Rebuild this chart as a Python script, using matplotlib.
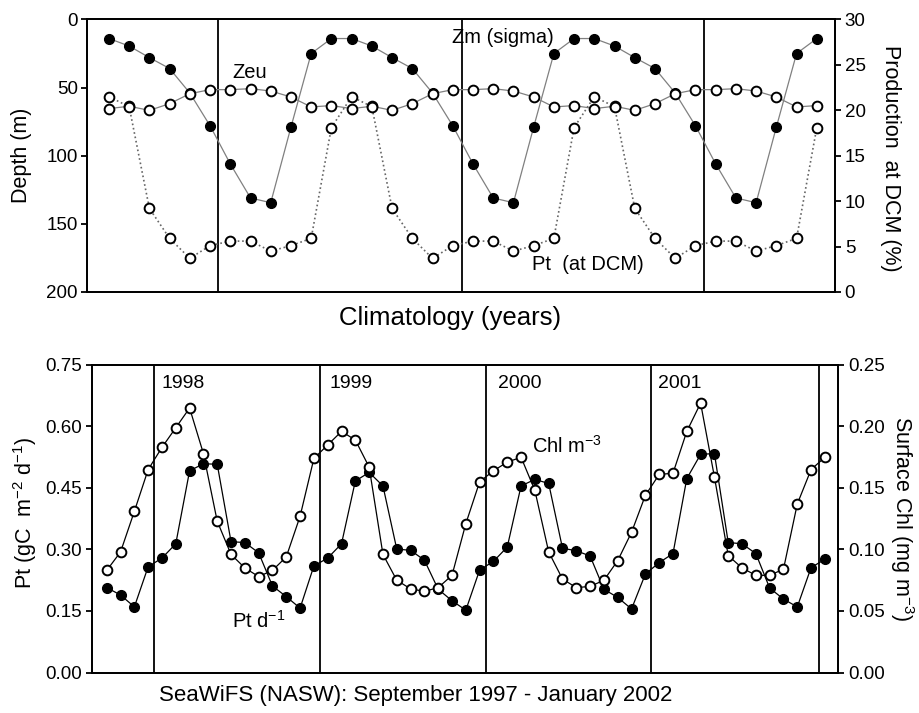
import numpy as np
import matplotlib
matplotlib.use("Agg")
import matplotlib.pyplot as plt

plt.rcParams['font.family'] = ['Liberation Sans', 'DejaVu Sans']
plt.rcParams['mathtext.default'] = 'regular'

# Climatologia mensual (julio -> junio), repetida 3 años en el grafico
zm_clim = [14, 19.5, 28, 36, 54, 78, 106, 131, 134.5, 79, 25, 14]
zeu_clim = [65.4, 63.7, 66.7, 61.8, 54.5, 51.5, 51.5, 50.8, 52.5, 56.9, 64.2, 63.2]
pt_dcm_clim = [21.5, 20.4, 9.2, 5.9, 3.7, 5.1, 5.6, 5.6, 4.5, 5.1, 5.9, 18.1]

zm = zm_clim * 3
zeu = zeu_clim * 3
pt_dcm = pt_dcm_clim * 3

# SeaWiFS mensual, septiembre 1997 - enero 2002
pt_daily = [0.207, 0.189, 0.160, 0.258, 0.279, 0.314, 0.492, 0.509, 0.508, 0.319, 0.317, 0.292,
            0.211, 0.185, 0.157, 0.260, 0.279, 0.314, 0.467, 0.488, 0.455, 0.301, 0.298, 0.274,
            0.203, 0.175, 0.152, 0.250, 0.271, 0.306, 0.455, 0.471, 0.461, 0.303, 0.297, 0.284,
            0.203, 0.183, 0.155, 0.240, 0.268, 0.290, 0.473, 0.532, 0.534, 0.317, 0.314, 0.290,
            0.206, 0.179, 0.160, 0.256, 0.276]
chl = [0.083, 0.098, 0.131, 0.165, 0.183, 0.199, 0.215, 0.178, 0.123, 0.096, 0.085, 0.078,
       0.083, 0.094, 0.127, 0.174, 0.185, 0.196, 0.189, 0.167, 0.096, 0.075, 0.068, 0.066,
       0.069, 0.079, 0.121, 0.155, 0.164, 0.171, 0.175, 0.148, 0.098, 0.076, 0.069, 0.070,
       0.075, 0.091, 0.114, 0.144, 0.161, 0.162, 0.196, 0.219, 0.159, 0.095, 0.085, 0.079,
       0.079, 0.084, 0.137, 0.165, 0.175]
years = ["1998", "1999", "2000", "2001"]

fig = plt.figure(figsize=(9.2, 7.13), dpi=100)

# ---------- panel superior ----------
ax = fig.add_axes([0.0951, 0.5905, 0.8125, 0.3822])
ax2 = ax.twinx()
xt = np.arange(len(zm))

for xv in [5.4, 17.45, 29.4]:
    ax.axvline(xv, color='black', lw=1.3, zorder=1)

ax.plot(xt, zm, color='#808080', lw=0.9, marker='o', ms=7, mfc='black', mec='black', zorder=3)
ax.plot(xt, zeu, color='#808080', lw=0.9, marker='o', ms=7, mfc='white', mec='black', mew=1.4, zorder=3)
ax2.plot(xt, pt_dcm, color='#666666', lw=1.2, ls=':', marker='o', ms=7, mfc='white', mec='black', mew=1.4)

ax.set_xlim(-1.06, 35.9)
ax.set_ylim(200, 0)
ax.set_yticks([0, 50, 100, 150, 200])
ax2.set_ylim(0, 30)
ax2.set_yticks([0, 5, 10, 15, 20, 25, 30])
ax.set_xticks([])

ax.text(6.1, 39, "Zeu", fontsize=14.5, ha='left', va='center')
ax.text(16.95, 13.2, "Zm (sigma)", fontsize=14.5, ha='left', va='center')
ax2.text(20.9, 3.0, "Pt  (at DCM)", fontsize=14.5, ha='left', va='center')

ax.set_ylabel("Depth (m)", fontsize=15.5)
ax.yaxis.set_label_coords(-0.074, 0.5)
ax2.set_ylabel("Production  at DCM (%)", fontsize=15.5, rotation=270, va='center')
ax2.yaxis.set_label_coords(1.074, 0.49)

# ---------- panel inferior ----------
bx = fig.add_axes([0.0995, 0.0568, 0.8114, 0.4313])
bx2 = bx.twinx()
xb = np.arange(len(pt_daily))

for xv in [3.43, 15.45, 27.47, 39.41, 51.57]:
    bx.axvline(xv, color='black', lw=1.3, zorder=1)

bx.plot(xb, pt_daily, color='black', lw=0.9, marker='o', ms=7, mfc='black', mec='black', zorder=3)
bx2.plot(xb, chl, color='black', lw=0.9, marker='o', ms=7, mfc='white', mec='black', mew=1.4)

bx.set_xlim(-1.1, 52.95)
bx.set_ylim(0, 0.75)
bx.set_yticks([0, 0.15, 0.30, 0.45, 0.60, 0.75])
bx.set_yticklabels(["0.00", "0.15", "0.30", "0.45", "0.60", "0.75"])
bx2.set_ylim(0, 0.25)
bx2.set_yticks([0, 0.05, 0.10, 0.15, 0.20, 0.25])
bx2.set_yticklabels(["0.00", "0.05", "0.10", "0.15", "0.20", "0.25"])
bx.set_xticks([])

for xv, yr in zip([4.0, 16.1, 28.3, 39.9], years):
    bx.text(xv, 0.706, yr, fontsize=14, ha='left', va='center')
bx.text(30.8, 0.553, "Chl m$^{-3}$", fontsize=14.5, ha='left', va='center')
bx.text(9.07, 0.126, "Pt d$^{-1}$", fontsize=14.5, ha='left', va='center')

bx.set_ylabel("Pt (gC  m$^{-2}$ d$^{-1}$)", fontsize=15.5)
bx.yaxis.set_label_coords(-0.071, 0.52)
bx2.set_ylabel("Surface Chl (mg m$^{-3}$)", fontsize=15.5, rotation=270, va='center')
bx2.yaxis.set_label_coords(1.085, 0.5)

for a in [ax, ax2, bx, bx2]:
    for s in a.spines.values():
        s.set_linewidth(1.3)
    a.tick_params(axis='y', direction='out', length=4, width=1.3, labelsize=13.5, pad=3)

fig.text(450 / 920, 1 - 318 / 713, "Climatology (years)", fontsize=18.5, ha='center', va='center')
fig.text(416 / 920, 1 - 695 / 713, "SeaWiFS (NASW): September 1997 - January 2002",
         fontsize=16, ha='center', va='center')

fig.savefig("out.png", dpi=100)
